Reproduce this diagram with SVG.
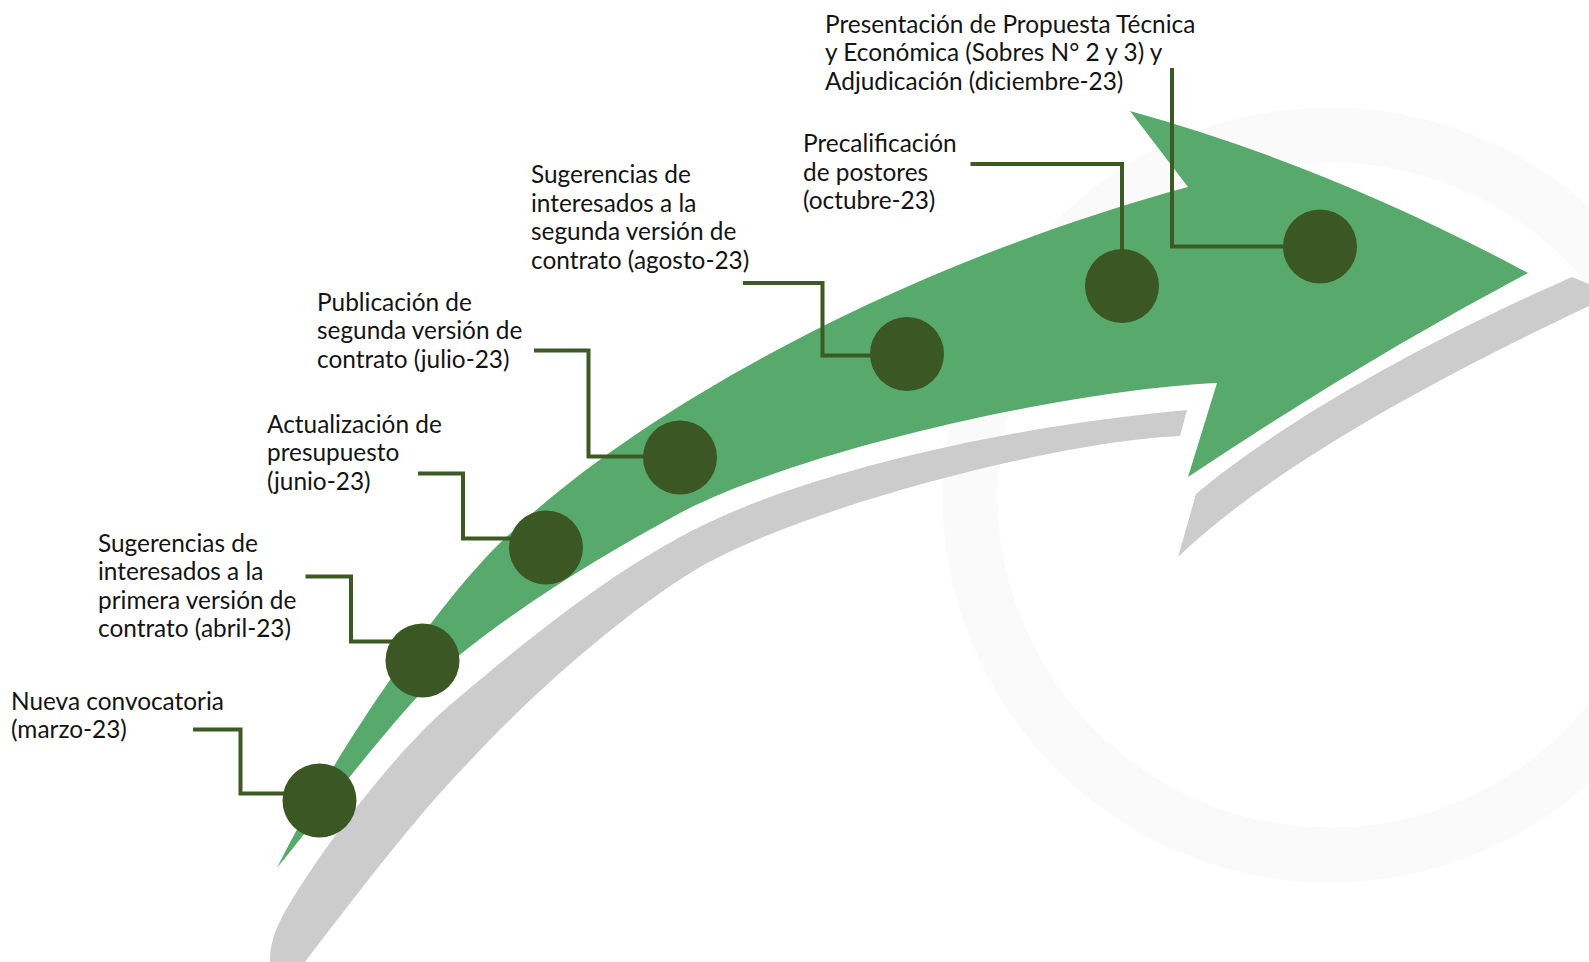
<svg xmlns="http://www.w3.org/2000/svg" width="1589" height="962" viewBox="0 0 1589 962">
<style>
.lbl{font-family:Lato,"Open Sans","Liberation Sans",sans-serif;font-size:24.4px;fill:#141414}
.dot{fill:#3b5723}
.con{fill:none;stroke:#3d5a25;stroke-width:4;stroke-linejoin:miter}
</style>
<rect width="1589" height="962" fill="#ffffff"/>
<g id="watermark">
<circle cx="1330" cy="495" r="360" fill="none" stroke="#fafafa" stroke-width="55"/>
</g>
<g id="band">
<path id="gray-lower" fill="#cccccc" d="M 1187 410 C 1017 425, 800 471, 680 537 C 600 581, 530 637, 450 705 C 400 747.5, 330 837, 290 903 C 278 923, 270 940, 270 960 L 270 975 L 295 975 C 330 930, 410 822, 468 763 C 528 698, 620 615, 700 567 C 810 505, 1060 441, 1180 436 Z"/>
<path id="gray-head" fill="#cccccc" d="M 1196 494 C 1260 440, 1380 362, 1572 277 L 1589 284 L 1589 306 C 1450 372, 1280 460, 1178 557 Z"/>
<path id="green-arrow" fill="#58aa6c" d="M 277 868 C 330 760, 445 590, 512 532 C 640 410, 900 265, 1188 187 L 1130 111 Q 1329 166, 1528 273 Q 1358 363, 1188 477 L 1217 383 C 1067 390, 800 450, 680 513 C 605 554, 532 597, 457 657 C 407 700, 322 813, 277 868 Z"/>
</g>
<g id="connectors">
<polyline class="con" points="193,729.5 240.5,729.5 240.5,793.5 300,793.5"/>
<polyline class="con" points="305.5,576.5 351,576.5 351,641.5 410,641.5"/>
<polyline class="con" points="418,473.5 463,473.5 463,538.5 530,538.5"/>
<polyline class="con" points="534,350.5 588.5,350.5 588.5,456.5 660,456.5"/>
<polyline class="con" points="743,283 822.5,283 822.5,355.5 890,355.5"/>
<polyline class="con" points="970.5,164 1122,164 1122,270"/>
<polyline class="con" points="1172,68 1172,246.5 1300,246.5"/>
</g>
<g id="n1"><circle class="dot" cx="319.5" cy="800.5" r="37"/><text class="lbl" x="11" y="709.5">Nueva convocatoria</text><text class="lbl" x="11" y="737.5">(marzo-23)</text></g>
<g id="n2"><circle class="dot" cx="422.5" cy="660.5" r="37"/><text class="lbl" x="98" y="551.5">Sugerencias de</text><text class="lbl" x="98" y="580">interesados a la</text><text class="lbl" x="98" y="608.5">primera versión de</text><text class="lbl" x="98" y="637">contrato (abril-23)</text></g>
<g id="n3"><circle class="dot" cx="546" cy="547.5" r="37"/><text class="lbl" x="267" y="432.5">Actualización de</text><text class="lbl" x="267" y="461">presupuesto</text><text class="lbl" x="267" y="489.5">(junio-23)</text></g>
<g id="n4"><circle class="dot" cx="680" cy="457.5" r="37"/><text class="lbl" x="317" y="310.5">Publicación de</text><text class="lbl" x="317" y="339">segunda versión de</text><text class="lbl" x="317" y="367.5">contrato (julio-23)</text></g>
<g id="n5"><circle class="dot" cx="907" cy="354" r="37"/><text class="lbl" x="531" y="183">Sugerencias de</text><text class="lbl" x="531" y="211.5">interesados a la</text><text class="lbl" x="531" y="240">segunda versión de</text><text class="lbl" x="531" y="268.5">contrato (agosto-23)</text></g>
<g id="n6"><circle class="dot" cx="1122" cy="286" r="37"/><text class="lbl" x="803" y="152">Precalificación</text><text class="lbl" x="803" y="180.5">de postores</text><text class="lbl" x="803" y="209">(octubre-23)</text></g>
<g id="n7"><circle class="dot" cx="1320" cy="246.5" r="37"/><text class="lbl" x="825" y="32.5">Presentación de Propuesta Técnica</text><text class="lbl" x="825" y="61">y Económica (Sobres N° 2 y 3) y</text><text class="lbl" x="825" y="89.5">Adjudicación (diciembre-23)</text></g>
</svg>
